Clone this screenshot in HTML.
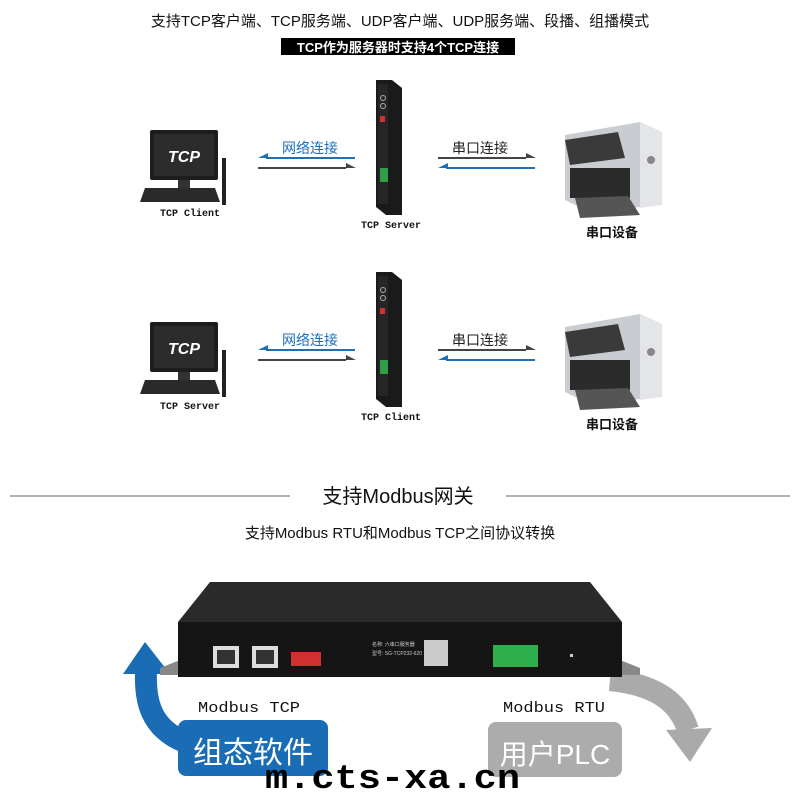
<!DOCTYPE html>
<html><head><meta charset="utf-8"><style>
html,body{margin:0;padding:0;background:#fff;width:800px;height:800px;overflow:hidden}
text{font-family:"Liberation Sans","Noto Sans CJK SC",sans-serif}
text.m{font-family:"Liberation Mono","Noto Sans CJK SC",monospace}
</style></head><body>
<svg width="800" height="800" viewBox="0 0 800 800" xmlns="http://www.w3.org/2000/svg">
<defs>
<g id="row">
  <rect x="150" y="130" width="68" height="50" rx="2" fill="#1d1d1d"/>
  <rect x="154" y="134" width="60" height="42" fill="#2c2c2c"/>
  <text x="184" y="162" font-size="16" font-weight="bold" font-style="italic" fill="#fff" text-anchor="middle">TCP</text>
  <rect x="178" y="180" width="12" height="10" fill="#333"/>
  <polygon points="145,188 215,188 220,202 140,202" fill="#2a2a2a"/>
  <rect x="222" y="158" width="4" height="47" fill="#222"/>
  <polygon points="376,80 392,80 402,88 402,215 386,215 376,207" fill="#1a1a1a"/>
  <rect x="378" y="84" width="10" height="120" fill="#262626"/>
  <circle cx="383" cy="98" r="2.5" fill="none" stroke="#aaa"/>
  <circle cx="383" cy="106" r="2.5" fill="none" stroke="#aaa"/>
  <rect x="380" y="116" width="5" height="6" fill="#c33"/>
  <rect x="380" y="168" width="8" height="14" fill="#2e9e47"/>
  <line x1="266" y1="158" x2="355" y2="158" stroke="#1e6fb8" stroke-width="2"/>
  <polygon points="258,158 268,153 268,158" fill="#1e6fb8"/>
  <line x1="258" y1="168" x2="346" y2="168" stroke="#444" stroke-width="2"/>
  <polygon points="356,168 346,163 346,168" fill="#444"/>
  <text x="310" y="153" font-size="14" fill="#1e6fb8" text-anchor="middle">网络连接</text>
  <line x1="438" y1="158" x2="526" y2="158" stroke="#444" stroke-width="2"/>
  <polygon points="536,158 526,153 526,158" fill="#444"/>
  <line x1="446" y1="168" x2="535" y2="168" stroke="#1e6fb8" stroke-width="2"/>
  <polygon points="438,168 448,163 448,168" fill="#1e6fb8"/>
  <text x="480" y="153" font-size="14" fill="#222" text-anchor="middle">串口连接</text>
  <polygon points="565,135 640,122 662,132 662,205 590,212 565,200" fill="#c9ccd1"/>
  <polygon points="640,122 662,132 662,205 640,208" fill="#e3e5e8"/>
  <polygon points="565,140 618,132 625,158 570,165" fill="#3a3a3a"/>
  <rect x="570" y="168" width="60" height="30" fill="#2b2b2b"/>
  <polygon points="575,198 628,196 640,215 580,218" fill="#555"/>
  <circle cx="651" cy="160" r="4" fill="#888"/>
  <text x="612" y="237" font-size="13" font-weight="bold" fill="#111" text-anchor="middle">串口设备</text>
</g>
</defs>
<text x="400" y="26" font-size="15" fill="#111" text-anchor="middle">支持TCP客户端、TCP服务端、UDP客户端、UDP服务端、段播、组播模式</text>
<rect x="281" y="38" width="234" height="17" fill="#000"/>
<text x="398" y="52" font-size="13" font-weight="bold" fill="#fff" text-anchor="middle">TCP作为服务器时支持4个TCP连接</text>

<use href="#row"/>
<text class="m" x="190" y="216" font-size="10" font-weight="bold" fill="#111" text-anchor="middle">TCP Client</text>
<text class="m" x="391" y="228" font-size="10" font-weight="bold" fill="#111" text-anchor="middle">TCP Server</text>
<g transform="translate(0,192)"><use href="#row"/></g>
<text class="m" x="190" y="409" font-size="10" font-weight="bold" fill="#111" text-anchor="middle">TCP Server</text>
<text class="m" x="391" y="420" font-size="10" font-weight="bold" fill="#111" text-anchor="middle">TCP Client</text>

<line x1="10" y1="496" x2="290" y2="496" stroke="#666" stroke-width="1"/>
<line x1="506" y1="496" x2="790" y2="496" stroke="#666" stroke-width="1"/>
<text x="398" y="503" font-size="20" fill="#111" text-anchor="middle">支持Modbus网关</text>
<text x="400" y="538" font-size="15" fill="#111" text-anchor="middle">支持Modbus RTU和Modbus TCP之间协议转换</text>

<path d="M185,742 C150,728 145,700 146,672" fill="none" stroke="#1a6db5" stroke-width="22"/>
<polygon points="123,674 145,642 170,674" fill="#1a6db5"/>
<path d="M610,680 C660,685 680,705 688,730" fill="none" stroke="#aaa" stroke-width="22"/>
<polygon points="666,730 712,728 690,762" fill="#aaa"/>

<polygon points="160,668 180,660 620,660 640,668 640,675 160,675" fill="#888"/>
<polygon points="210,582 590,582 622,622 178,622" fill="#2a2a2a"/>
<rect x="178" y="622" width="444" height="55" fill="#151515"/>
<rect x="213" y="646" width="26" height="22" fill="#ddd"/><rect x="217" y="650" width="18" height="14" fill="#333"/>
<rect x="252" y="646" width="26" height="22" fill="#ddd"/><rect x="256" y="650" width="18" height="14" fill="#333"/>
<rect x="291" y="652" width="30" height="14" fill="#d03030"/>
<rect x="424" y="640" width="24" height="26" fill="#ccc"/>
<rect x="493" y="645" width="45" height="22" fill="#2fae4c"/>
<rect x="570" y="654" width="3" height="3" fill="#ccc"/>
<text x="372" y="646" font-size="5" fill="#ccc">名称: 六串口服务器</text>
<text x="372" y="655" font-size="5" fill="#ccc">型号: SG-TCP232-620</text>

<rect x="178" y="720" width="150" height="56" rx="8" fill="#1a6db5"/>
<text x="253" y="763" font-size="30" fill="#fff" text-anchor="middle">组态软件</text>
<rect x="488" y="722" width="134" height="55" rx="8" fill="#acacac"/>
<text x="555" y="764" font-size="28" fill="#fff" text-anchor="middle">用户PLC</text>

<text class="m" x="198" y="712" font-size="15" fill="#111" textLength="102" lengthAdjust="spacingAndGlyphs">Modbus TCP</text>
<text class="m" x="503" y="712" font-size="15" fill="#111" textLength="102" lengthAdjust="spacingAndGlyphs">Modbus RTU</text>
<text class="m" x="265" y="788" font-size="34" font-weight="bold" fill="#000" textLength="255" lengthAdjust="spacingAndGlyphs">m.cts-xa.cn</text>
</svg>
</body></html>
